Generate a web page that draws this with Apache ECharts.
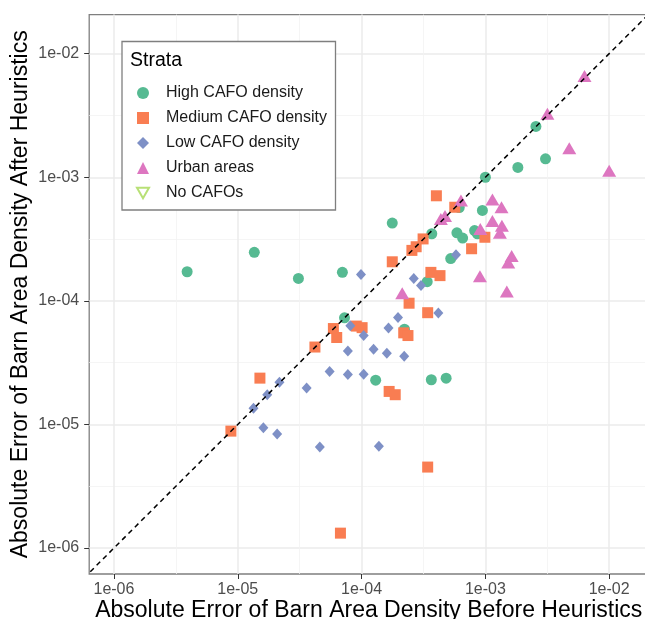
<!DOCTYPE html>
<html>
<head>
<meta charset="UTF-8">
<title>Absolute error of barn area density</title>
<script src="https://cdn.jsdelivr.net/npm/echarts@6/dist/echarts.min.js"></script>
<style>
    html, body { margin: 0; padding: 0; background: #fff; }
    #main { width: 645px; height: 619px; }
</style>
</head>
<body>
<div id="main"></div>
<script>
// values (before = x, after = y)
var highX = [3.9e-6, 1.36e-5, 3.09e-5, 7.0e-5, 7.28e-5, 1.77e-4, 2.22e-4, 1.30e-4, 3.66e-4, 4.82e-4, 3.39e-4, 3.69e-4,
             5.25e-4, 5.89e-4, 6.55e-4, 6.15e-4, 8.18e-4, 8.63e-4, 9.46e-4, 1.0e-3, 1.83e-3, 2.56e-3, 3.06e-3];
var highY = [1.72e-4, 2.47e-4, 1.52e-4, 1.70e-4, 7.29e-5, 4.26e-4, 5.89e-5, 2.28e-5, 2.30e-5, 2.37e-5, 1.43e-4, 3.49e-4,
             2.20e-4, 3.55e-4, 3.22e-4, 5.68e-4, 3.70e-4, 3.49e-4, 5.39e-4, 1.0e-3, 1.20e-3, 2.58e-3, 1.41e-3];

var mediumX = [8.8e-6, 1.51e-5, 4.2e-5, 5.92e-5, 6.3e-5, 6.75e-5, 9.07e-5, 1.01e-4, 1.77e-4, 1.67e-4, 1.87e-4, 2.19e-4,
               2.37e-4, 2.42e-4, 2.55e-4, 2.76e-4, 3.14e-4, 3.42e-4, 3.42e-4, 3.63e-4, 4.30e-4, 4.02e-4, 5.66e-4, 7.74e-4, 9.91e-4];
var mediumY = [8.83e-6, 2.37e-5, 4.23e-5, 5.97e-5, 5.05e-5, 1.32e-6, 6.25e-5, 6.07e-5, 2.07e-4, 1.85e-5, 1.74e-5, 5.51e-5,
               5.24e-5, 9.57e-5, 2.56e-4, 2.74e-4, 3.17e-4, 8.02e-5, 4.52e-6, 1.70e-4, 1.60e-4, 7.08e-4, 5.72e-4, 2.64e-4, 3.27e-4];

var lowX = [1.34e-5, 1.73e-5, 2.17e-5, 1.61e-5, 2.08e-5, 3.6e-5, 4.6e-5, 5.52e-5, 7.75e-5, 1.04e-4, 7.75e-5, 8.11e-5,
            1.04e-4, 9.89e-5, 1.25e-4, 1.60e-4, 1.65e-4, 1.97e-4, 2.21e-4, 1.38e-4, 2.64e-4, 3.02e-4, 4.17e-4, 5.79e-4];
var lowY = [1.35e-5, 1.74e-5, 2.2e-5, 9.42e-6, 8.38e-6, 1.97e-5, 6.58e-6, 2.68e-5, 2.53e-5, 2.55e-5, 3.93e-5, 6.29e-5,
            5.24e-5, 1.63e-4, 4.05e-5, 3.76e-5, 6.02e-5, 7.34e-5, 3.57e-5, 6.67e-6, 1.52e-4, 1.33e-4, 7.96e-5, 2.36e-4];

var urbanX = [2.13e-4, 4.37e-4, 4.72e-4, 6.35e-4, 9.1e-4, 9.04e-4, 1.14e-3, 1.14e-3, 1.35e-3, 1.36e-3, 1.31e-3, 1.63e-3,
              1.53e-3, 1.49e-3, 3.17e-3, 4.76e-3, 6.32e-3, 1.0e-2];
var urbanY = [1.15e-4, 4.6e-4, 4.86e-4, 6.48e-4, 3.81e-4, 1.58e-4, 6.62e-4, 4.42e-4, 5.72e-4, 4.05e-4, 3.55e-4, 2.31e-4,
              2.04e-4, 1.19e-4, 3.27e-3, 1.72e-3, 6.58e-3, 1.13e-3];

var noCafoX = [];
var noCafoY = [];

var strata = ['High CAFO density', 'Medium CAFO density', 'Low CAFO density', 'Urban areas', 'No CAFOs'];
var majorTicks = [1e-6, 1e-5, 1e-4, 1e-3, 1e-2];
var minorTicks = [3.162e-6, 3.162e-5, 3.162e-4, 3.162e-3];

var xMin = Math.pow(10, -6.2), xMax = Math.pow(10, -1.684);
var yMin = Math.pow(10, -6.21), yMax = Math.pow(10, -1.684);

var font = 'Liberation Sans, Arial, Helvetica, sans-serif';
var colors = ['#56BA92', '#F97D52', '#7E90C6', '#DD76C0', '#A6D854'];
var downTri = 'path://M0,0L10,0L5,8.66Z';

function pairs(xs, ys) {
    var out = [];
    for (var i = 0; i < xs.length; i++) out.push([xs[i], ys[i]]);
    return out;
}

function sci(v) {
    var e = Math.round(Math.log10(v));
    var a = Math.abs(e);
    return '1e' + (e < 0 ? '-' : '+') + (a < 10 ? '0' : '') + a;
}

function logAxis(min, max, main) {
    return {
        type: 'log',
        min: min,
        max: max,
        gridIndex: 0,
        show: true,
        axisLine: { show: false },
        axisTick: {
            show: main,
            customValues: main ? majorTicks : minorTicks,
            length: 5,
            lineStyle: { color: '#333333', width: 1 }
        },
        axisLabel: {
            show: main,
            customValues: majorTicks,
            showMinLabel: true,
            showMaxLabel: true,
            formatter: sci,
            color: '#4D4D4D',
            fontFamily: font,
            fontSize: 16
        },
        splitLine: {
            show: true,
            lineStyle: { color: main ? '#EBEBEB' : '#F3F3F3', width: main ? 1.5 : 0.8 }
        },
        minorTick: { show: false },
        minorSplitLine: { show: false }
    };
}

var xMainAxis = logAxis(xMin, xMax, true);
xMainAxis.name = 'Absolute Error of Barn Area Density Before Heuristics';
xMainAxis.nameLocation = 'middle';
xMainAxis.nameGap = 25;
xMainAxis.nameMoveOverlap = false;
xMainAxis.nameTextStyle = { color: '#000', fontFamily: font, fontSize: 23 };
xMainAxis.axisLabel.margin = 8;

var yMainAxis = logAxis(yMin, yMax, true);
yMainAxis.name = 'Absolute Error of Barn Area Density After Heuristics';
yMainAxis.nameLocation = 'middle';
yMainAxis.nameGap = 57;
yMainAxis.nameMoveOverlap = false;
yMainAxis.nameTextStyle = { color: '#000', fontFamily: font, fontSize: 23 };
yMainAxis.axisLabel.margin = 10;

var chart = echarts.init(document.getElementById('main'), null, { renderer: 'canvas' });

chart.setOption({
    backgroundColor: '#fff',
    animation: false,
    grid: {
        left: 89.2, top: 14.6, right: -3.3, bottom: 45,
        containLabel: false,
        outerBoundsMode: 'none',
        show: true,
        borderColor: '#7F7F7F',
        borderWidth: 1.3,
        backgroundColor: 'transparent'
    },
    xAxis: [xMainAxis, logAxis(xMin, xMax, false)],
    yAxis: [yMainAxis, logAxis(yMin, yMax, false)],
    title: {
        text: 'Strata',
        left: 125,
        top: 46,
        textStyle: { color: '#000', fontFamily: font, fontSize: 19.5, fontWeight: 'normal' }
    },
    graphic: [{
        type: 'rect',
        z: 3,
        shape: { x: 122, y: 41.5, width: 213.5, height: 168.5 },
        style: { fill: '#fff', stroke: '#7F7F7F', lineWidth: 1.3 }
    }],
    legend: {
        orient: 'vertical',
        left: 136,
        top: 85,
        itemWidth: 12,
        itemHeight: 12,
        itemGap: 9,
        padding: 0,
        selectedMode: false,
        textStyle: { color: '#1A1A1A', fontFamily: font, fontSize: 16, padding: [0, 0, 0, 12] },
        data: [
            { name: strata[0], icon: 'circle' },
            { name: strata[1], icon: 'rect' },
            { name: strata[2], icon: 'diamond' },
            { name: strata[3], icon: 'triangle' },
            { name: strata[4], icon: downTri }
        ]
    },
    series: [
        {
            name: 'y = x',
            type: 'line',
            xAxisIndex: 0, yAxisIndex: 0,
            data: [[Math.pow(10, -6.5), Math.pow(10, -6.5)], [Math.pow(10, -1.5), Math.pow(10, -1.5)]],
            symbol: 'none',
            clip: true,
            silent: true,
            z: 5,
            lineStyle: { color: '#000', width: 1.5, type: [5, 4] }
        },
        {
            name: strata[0], type: 'scatter', xAxisIndex: 0, yAxisIndex: 0,
            data: pairs(highX, highY), symbol: 'circle', symbolSize: 11,
            itemStyle: { color: colors[0], opacity: 1 }
        },
        {
            name: strata[1], type: 'scatter', xAxisIndex: 0, yAxisIndex: 0,
            data: pairs(mediumX, mediumY), symbol: 'rect', symbolSize: 11,
            itemStyle: { color: colors[1], opacity: 1 }
        },
        {
            name: strata[2], type: 'scatter', xAxisIndex: 0, yAxisIndex: 0,
            data: pairs(lowX, lowY), symbol: 'diamond', symbolSize: [10, 11],
            itemStyle: { color: colors[2], opacity: 1 }
        },
        {
            name: strata[3], type: 'scatter', xAxisIndex: 0, yAxisIndex: 0,
            data: pairs(urbanX, urbanY), symbol: 'triangle', symbolSize: [14, 12],
            itemStyle: { color: colors[3], opacity: 1 }
        },
        {
            name: strata[4], type: 'scatter', xAxisIndex: 0, yAxisIndex: 0,
            data: pairs(noCafoX, noCafoY), symbol: downTri, symbolSize: 13,
            itemStyle: { color: 'rgba(0,0,0,0)', borderColor: colors[4], borderWidth: 1.3 }
        }
    ]
});
</script>
</body>
</html>
